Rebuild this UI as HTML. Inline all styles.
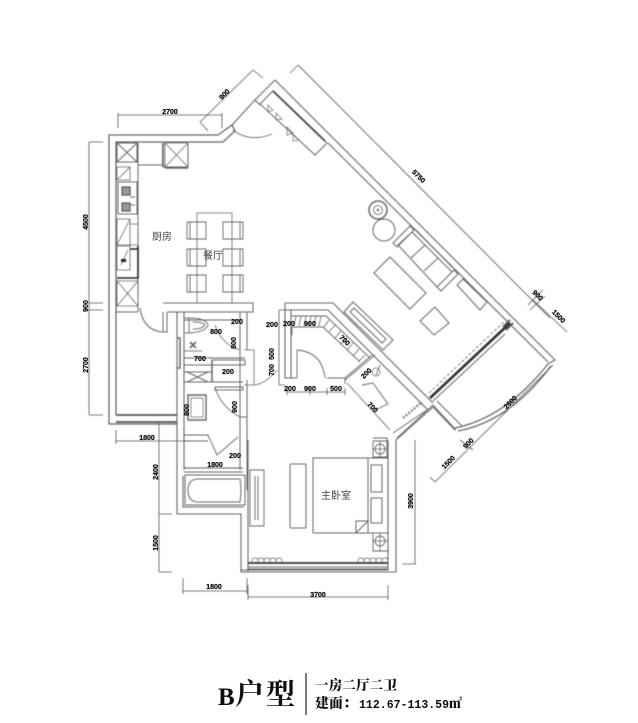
<!DOCTYPE html>
<html><head><meta charset="utf-8">
<style>
html,body{margin:0;padding:0;background:#fff;width:638px;height:723px;overflow:hidden}
svg{display:block}
.d{font:bold 7px "Liberation Sans",sans-serif;fill:#111;text-anchor:middle;stroke:#111;stroke-width:.25}
.c{font:10px "Noto Sans CJK SC","WenQuanYi Zen Hei",sans-serif;fill:#444;text-anchor:middle}
</style></head><body>
<svg width="638" height="723" viewBox="0 0 638 723" xmlns="http://www.w3.org/2000/svg">
<defs><filter id="b" x="-5%" y="-5%" width="110%" height="110%"><feGaussianBlur stdDeviation="0.5"/></filter><filter id="t" x="-5%" y="-5%" width="110%" height="110%"><feGaussianBlur stdDeviation="0.35"/></filter></defs>
<g filter="url(#b)" fill="none" stroke="#666" stroke-width="1">
<!-- outer walls -->
<path d="M218 135H109V424H177M116 415V142H223L235 131L232 125L218 135" stroke-width="1.3"/>
<path d="M116 415H177M116 422H177" stroke-width="1.8" stroke="#555"/>
<path d="M177 312V514H241V572H396V440L433 407L455 430M184 312V447M184 447V470M183 476V507H244M248 440V572M388 440V570" stroke-width="1.1"/>
<path d="M241 570H388" stroke-width="1"/>
<path d="M248 563H388" stroke-width="2" stroke="#444"/>
<path d="M248 567H388M248 569H388" stroke-width=".9"/>
<!-- scallops -->
<path d="M252 563q-1-5 3-5t3 5q-1-5 3-5t3 5q-1-5 3-5t3 5q-1-5 3-5t3 5q-1-5 3-5t3 5M358 563q-1-5 3-5t3 5q-1-5 3-5t3 5q-1-5 3-5t3 5q-1-5 3-5t3 5q-1-5 3-5t3 5" stroke-width=".7"/>
<!-- top-right diagonal -->
<path d="M275 80L555 360L548 364M255 100L275 80M255 100L260 105M232 125L255 100" stroke-width="1.1"/>
<path d="M328 143L548 362" stroke-width="1.1"/>
<path d="M298 65L550 318" stroke-width=".9"/>
<path d="M290 73L298 65" stroke-width=".8"/>
<!-- cabinet -->
<path d="M260 104L273 91L327 143L315 155Z" stroke-width="1"/>
<path d="M273 91L325 141" stroke-width="1.8" stroke="#444"/>
<path d="M268 105l5 5l-5 2zM276 113l6 6l-6 1zM287 127l6 6l-6 2zM293 134l6 6l-6 1z" stroke-width=".7"/>
<path d="M233 130Q250 143 272 134" stroke-width=".8"/>
<!-- lower wall right -->
<path d="M285 303H333L433 403M285 310H328L428 410M285 303V310M285 310V378H291V310M291 378H297" stroke-width="1.1"/>
<path d="M433 405L456 430M437 401L462 426" stroke-width="1"/>
<path d="M455 428Q505 418 548 364M458 431Q510 421 551 366" stroke-width="1.3"/>
<!-- living curtain -->
<path d="M430 398L510 323" stroke="#333" stroke-width="2.6"/>
<path d="M433 401L505 334" stroke-width="1"/>
<path d="M429 393L506 320" stroke-width=".8" stroke-dasharray="3 2"/>
<path d="M503 327L510 320M506 330L513 323" stroke="#555" stroke-width="2"/>
<path d="M393 433L427 410M397 438L433 405" stroke-width=".9"/>
<path d="M403 418L422 402" stroke-width="2.5" stroke-dasharray="2 1.5" stroke="#888"/>
<!-- sofa etc. -->
<path d="M398 245L412 232L452 272L437 287ZM393 243L410 226L414 230L397 247ZM437 287L454 270L458 274L441 291ZM411 258L425 245M424 271L438 258M412 232L452 272M415 229L453 268"/>
<path d="M374 273L390 257L426 293L410 309ZM420 321L435 307L449 323L434 335ZM344 312L353 302L393 340L383 350ZM350 312L354 308L386 339L382 343ZM457 285L463 279L487 302L480 310ZM463 279L487 302" />
<circle cx="378" cy="210" r="9" stroke-width="1.5"/><circle cx="378" cy="210" r="4.5" stroke-width=".8"/><circle cx="378" cy="210" r="1" stroke-width=".8"/>
<circle cx="384" cy="230" r="11"/>
<!-- kitchen -->
<path d="M138 143V312M117 143H137V162H117ZM117 143L137 162M137 143L117 162" stroke-width="1"/>
<path d="M138 143V165H163M163 143V167H188V143M138 165H163" stroke-width="1"/>
<path d="M165 143H188V167H165ZM165 143L188 167M188 143L165 167" stroke-width=".8"/>
<path d="M163 143V167" stroke-width="1.8"/><path d="M165 168H188" stroke-width="1.6"/>
<path d="M117 167H130V180H117ZM117 180L130 167" stroke-width=".8"/>
<path d="M118 182H137V214H118Z" stroke-width="1"/>
<rect x="122" y="187" width="8" height="8" stroke="#333" fill="#999"/><rect x="122" y="203" width="8" height="8" stroke="#333" fill="#999"/>
<path d="M130 197h5M130 205h5" stroke-width="1"/>
<path d="M117 219H130V245H117ZM117 245L130 219M130 224H138M130 245H138" stroke-width=".8"/>
<path d="M117 246H130V270H117ZM121 265L128 250" stroke-width=".8"/>
<path d="M130 249H138V278H117M138 246V278" stroke="#222" stroke-width="1.6"/>
<rect x="121" y="259" width="5" height="3" fill="#222" stroke="none"/>
<path d="M117 281H138V306H117ZM117 281L138 306M138 281L117 306" stroke-width=".8"/>
<path d="M116 312H138M140 308Q143 330 162 332M163 312V332H167V312M163 303H253V312H167" stroke-width="1"/>
<!-- dining -->
<path d="M197 213H232V303H197Z" stroke-width=".8"/>
<path d="M187 222H206V239H187ZM190 222V239M223 222H243V239H223ZM240 222V239M187 249H206V266H187ZM190 249V266M223 249H243V266H223ZM240 249V266M187 275H206V292H187ZM190 275V292M223 275H243V292H223ZM240 275V292" stroke-width=".9"/>
<!-- WC -->
<path d="M184 312H247M184 320H240M240 312V470M247 312V350M247 380V490" stroke-width="1"/>
<path d="M185 318H189V333H185M189 318Q206 318 208 325Q206 332 189 333M193 322Q203 322 205 325Q203 329 193 329" stroke-width=".9"/>
<path d="M215 325Q222 345 240 350M250 350H254V385H250M250 350H244M244 385H254M252 385Q265 385 277 370" stroke-width=".8"/>
<path d="M177 338H180V368H177" stroke-width="1.5"/>
<path d="M190 342l3 3l3-3m-6 6l3-3l3 3" stroke-width="1.6"/>
<path d="M184 358H245M212 360H245V365H212ZM184 365H212M184 382H243M184 372H212M187 372L208 382M208 372L187 382" stroke-width="1"/>
<path d="M212 360V382" stroke-width="1.5"/>
<path d="M215 387H243V390H215ZM215 388Q222 408 240 417M240 417H247" stroke-width=".9"/>
<path d="M188 395H206V420H188Z" stroke-width="1.4"/><path d="M191 398H203V417H191Z" stroke-width=".7"/>
<path d="M184 435H208V437M184 441H208M208 435L217 455L238 437" stroke-width=".9"/>
<!-- bath -->
<path d="M184 468H243M184 472H243" stroke-width="1"/>
<path d="M185 475H245V505H185Z" stroke-width="1"/>
<path d="M198 479H240Q242 490 240 502H198Q188 502 188 490Q188 479 198 479Z" stroke-width="1"/>
<path d="M250 470H264V526H250ZM255 476V520M258 476V520" stroke-width=".9"/>
<!-- bedroom -->
<rect x="290" y="464" width="16" height="64" rx="1"/>
<path d="M313 533V458H368V533H313M368 458H388M368 533H388M371 465H382V492H371ZM371 498H382V523H371ZM356 533V521H368L356 533Z" stroke-width="1"/>
<path d="M373 441H388V457H373ZM373 533H388V551H373Z" stroke-width=".9"/>
<circle cx="380" cy="449" r="5" stroke-width=".9"/><circle cx="380" cy="541" r="5" stroke-width=".9"/>
<path d="M372 449H388M380 441V457M372 541H388M380 533V551" stroke-width=".8"/>
<!-- closet/stair -->
<path d="M292 327H323L360 362M291 316H326L370 358M292 335V327" stroke-width=".9"/>
<path d="M296 316l-2 10M301 316l-2 10M306 316l-2 10M311 316l-2 10M316 316l-2 10M321 316l-2 10M329 320l-5 7M335 325l-6 7M341 331l-6 7M347 337l-6 7M353 343l-6 7M359 349l-6 7M365 355l-6 6" stroke-width=".8"/>
<path d="M297 350V378M297 350Q322 352 325 378M327 378H345V384M345 378L372 355M345 380L375 355M347 383L390 430M362 385L373 383L388 404L375 410" stroke-width=".9"/>
<path d="M373 438H387V458H373M380 365L376 375" stroke-width=".9"/>
<circle cx="376" cy="372" r="4" stroke-width=".7"/>
<!-- dimensions -->
<g stroke="#555" stroke-width=".8">
<path d="M89 142V415M89 142H103M89 303H103M89 310H103M89 415H103"/>
<path d="M118 115H222M118 113V128M222 113V128"/>
<path d="M200 122L253 70M200 122L208 131M253 70L263 78"/>
<path d="M116 441H187M116 430V444M159 423V572M159 514H172M159 572H172"/>
<path d="M183 591H247M183 578V594M247 578V594M248 597H388M248 585V600M388 585V600"/>
<path d="M415 440V564M402 564H416"/>
<path d="M435 482L553 365M435 482L430 477M460 440L473 450"/>
<path d="M533 300L567 332M528 305L543 290M530 310L545 296"/>
<path d="M279 310V385M279 310H285M279 385H285M287 392H345M287 388V395M310 388V395M327 388V395M345 388V395"/>
<path d="M184 351H202M184 468H243"/>
</g>
</g>
<g filter="url(#t)">
<text class="c" x="162" y="240">厨房</text>
<text class="c" x="213" y="259">餐厅</text>
<text class="c" x="336" y="499">主卧室</text>
<text class="d" transform="translate(88,222) rotate(-90)">4500</text>
<text class="d" transform="translate(88,306) rotate(-90)">900</text>
<text class="d" transform="translate(88,365) rotate(-90)">2700</text>
<text class="d" x="170" y="114">2700</text>
<text class="d" transform="translate(226,96) rotate(-45)">900</text>
<text class="d" transform="translate(417,178) rotate(45)">5750</text>
<text class="d" transform="translate(536,297) rotate(45)">900</text>
<text class="d" transform="translate(557,318) rotate(45)">1500</text>
<text class="d" transform="translate(512,404) rotate(-45)">2600</text>
<text class="d" transform="translate(470,445) rotate(-45)">900</text>
<text class="d" transform="translate(450,464) rotate(-45)">1500</text>
<text class="d" x="147" y="440">1800</text>
<text class="d" transform="translate(158,472) rotate(-90)">2400</text>
<text class="d" transform="translate(158,543) rotate(-90)">1500</text>
<text class="d" x="214" y="589">1800</text>
<text class="d" x="318" y="597">3700</text>
<text class="d" transform="translate(413,501) rotate(-90)">3900</text>
<text class="d" x="215" y="467">1800</text>
<text class="d" x="200" y="361">700</text>
<text class="d" x="310" y="391">900</text>
<text class="d" x="290" y="391">200</text>
<text class="d" x="336" y="391">500</text>
<text class="d" x="310" y="326">900</text>
<text class="d" x="289" y="326">200</text>
<text class="d" transform="translate(343,342) rotate(45)">700</text>
<text class="d" transform="translate(371,409) rotate(45)">700</text>
<text class="d" transform="translate(368,375) rotate(-45)">200</text>
<text class="d" x="216" y="334">800</text>
<text class="d" transform="translate(236,343) rotate(-90)">800</text>
<text class="d" transform="translate(237,407) rotate(-90)">900</text>
<text class="d" transform="translate(189,410) rotate(-90)">800</text>
<text class="d" x="228" y="374">200</text>
<text class="d" x="237" y="324">200</text>
<text class="d" x="235" y="458">200</text>
<text class="d" x="272" y="327">200</text>
<text class="d" transform="translate(274,354) rotate(-90)">500</text>
<text class="d" transform="translate(274,370) rotate(-90)">700</text>
<text x="218" y="705" font-family="'Liberation Serif',serif" font-weight="bold" font-size="25" fill="#111">B</text>
<text x="235" y="704" font-family="'Noto Serif CJK SC','Noto Sans CJK SC',serif" font-weight="700" font-size="29" fill="#111" textLength="60">户型</text>
<path d="M306 673V715" stroke="#222" stroke-width="1.2"/>
<text x="315" y="690" font-family="'Noto Serif CJK SC','Noto Sans CJK SC',serif" font-weight="900" font-size="13.5" fill="#111" textLength="82">一房二厅二卫</text>
<text x="315" y="708" font-family="'Noto Serif CJK SC','Noto Sans CJK SC',serif" font-weight="900" font-size="14" fill="#111">建面：</text>
<text x="359" y="708" font-family="'Liberation Mono',monospace" font-weight="bold" font-size="11.5" fill="#111" textLength="90">112.67-113.59</text>
<text x="449" y="708" font-family="'Noto Serif CJK SC','Noto Sans CJK SC',serif" font-weight="900" font-size="13" fill="#111">㎡</text>
</g>
</svg>
</body></html>
